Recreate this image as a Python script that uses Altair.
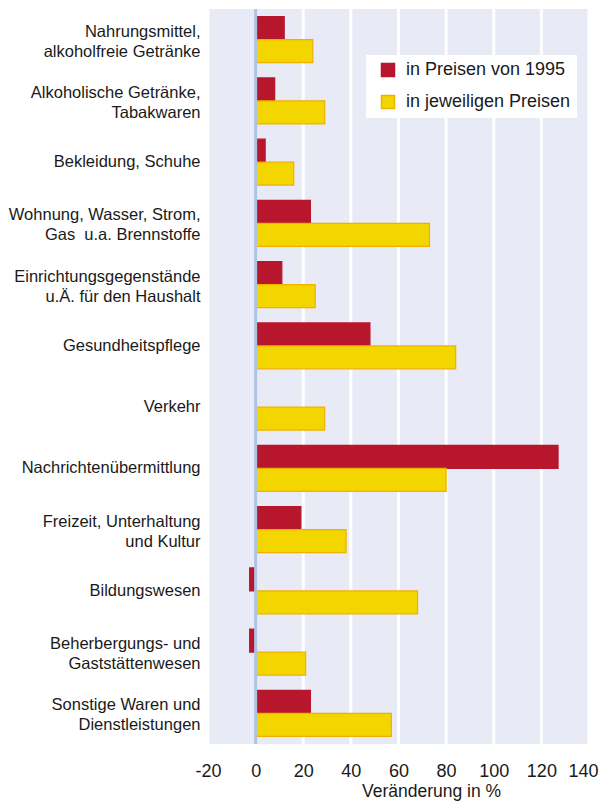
import altair as alt
import pandas as pd

categories = [
    "Nahrungsmittel,|alkoholfreie Getränke",
    "Alkoholische Getränke,|Tabakwaren",
    "Bekleidung, Schuhe",
    "Wohnung, Wasser, Strom,|Gas\u00a0 u.a. Brennstoffe",
    "Einrichtungsgegenstände|u.Ä. für den Haushalt\u00a0",
    "Gesundheitspflege",
    "Verkehr",
    "Nachrichtenübermittlung",
    "Freizeit, Unterhaltung|und Kultur",
    "Bildungswesen",
    "Beherbergungs- und|Gaststättenwesen",
    "Sonstige Waren und|Dienstleistungen",
]
preise_1995 = [12, 8, 4, 23, 11, 48, 0, 127, 19, -2.5, -2.5, 23]
jeweilige_preise = [24, 29, 16, 73, 25, 84, 29, 80, 38, 68, 21, 57]
series = ["in Preisen von 1995", "in jeweiligen Preisen"]
x_ticks = [-20, 0, 20, 40, 60, 80, 100, 120, 140]

rows = []
for c, a, b in zip(categories, preise_1995, jeweilige_preise):
    rows.append({"category": c, "series": series[0], "value": a})
    rows.append({"category": c, "series": series[1], "value": b})
df = pd.DataFrame(rows)

RED = "#b8162d"
YELLOW = "#f3d500"
YSTROKE = "#efb000"
FONT = "Liberation Sans"

legend = alt.Legend(
    title=None, orient="none", legendX=158, legendY=46,
    fillColor="white", padding=6, symbolType="square", symbolSize=169,
    symbolStrokeWidth=1.5, labelFontSize=18, labelFont=FONT, labelColor="#1a1a1a",
    labelLimit=400, rowPadding=12, symbolOffset=7, labelOffset=9,
)

xscale = alt.Scale(domain=[-20, 140], nice=False, zero=False)

grid = alt.Chart(pd.DataFrame({"value": x_ticks})).mark_rule(
    color="white", strokeWidth=3
).encode(x=alt.X("value:Q", scale=xscale))

bars = alt.Chart(df).mark_bar(strokeWidth=1.2).encode(
    x=alt.X("value:Q", scale=xscale,
            axis=alt.Axis(values=x_ticks, title="Veränderung in %", grid=False,
                          domain=False, ticks=False, labelFlush=False,
                          labelExpr="toString(datum.value)",
                          labelOffset={"condition": {"test": "datum.value == 140", "value": -6},
                                       "value": 0},
                          labelFontSize=18, labelPadding=18, titleFontSize=17.5,
                          titleFontWeight="normal", titleX=223, titleY=38,
                          titleBaseline="top")),
    y=alt.Y("category:N", sort=categories,
            scale=alt.Scale(paddingInner=0.25, paddingOuter=0.125),
            axis=alt.Axis(title=None, labelExpr="split(datum.label, '|')",
                          domain=False, ticks=False, grid=False, labelFontSize=16.5,
                          labelLineHeight=20, labelPadding=8, labelLimit=300,
                          labelOffset={"condition": {"test": "indexof(datum.label, '|') >= 0",
                                                     "value": -8}, "value": 0})),
    yOffset=alt.YOffset("series:N", sort=series,
                        scale=alt.Scale(paddingInner=0, paddingOuter=0)),
    fill=alt.Fill("series:N", scale=alt.Scale(domain=series, range=[RED, YELLOW]), legend=legend),
    stroke=alt.Stroke("series:N", scale=alt.Scale(domain=series, range=[RED, YSTROKE]), legend=legend),
)

rule = alt.Chart(pd.DataFrame({"value": [0]})).mark_rule(
    color="#adc3e3", strokeWidth=3
).encode(x="value:Q")

chart = alt.layer(grid, bars, rule).properties(
    width=381, height=735,
    padding={"left": 200, "top": 1, "right": 10, "bottom": 60},
    autosize="none",
).configure_view(fill="#e8eaf6", stroke=None).configure_axis(
    labelFont=FONT, titleFont=FONT, labelColor="#1a1a1a", titleColor="#1a1a1a"
)

chart.save("out.html", embed_options={"renderer": "svg", "actions": False})
